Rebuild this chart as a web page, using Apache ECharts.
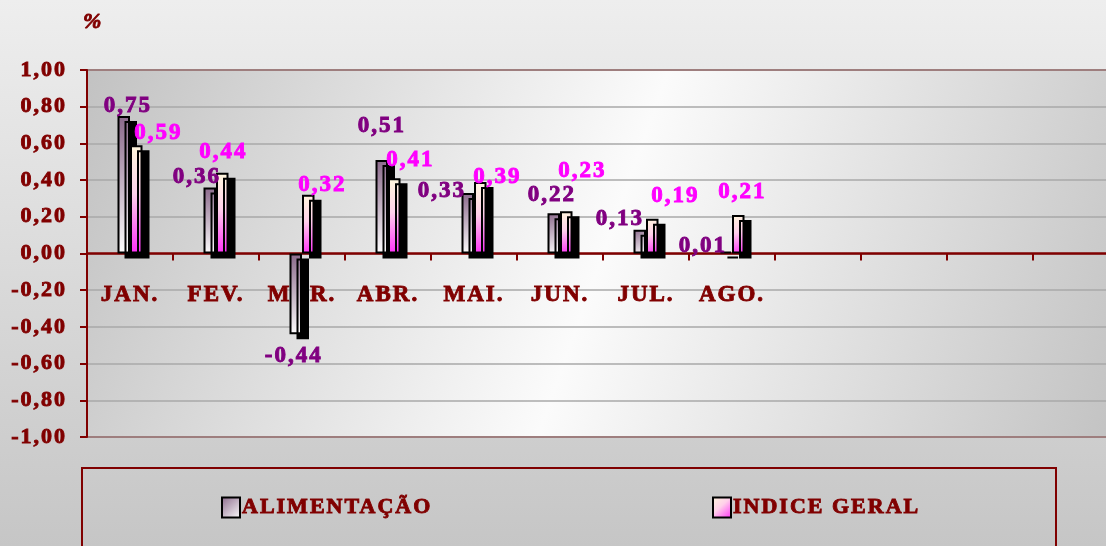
<!DOCTYPE html>
<html>
<head>
<meta charset="utf-8">
<script src="https://cdn.jsdelivr.net/npm/echarts@6/dist/echarts.min.js"></script>
<style>
  html, body { margin: 0; padding: 0; overflow: hidden; }
  /* the plot runs a little past the right edge of the window, as in the original */
  #main { width: 1120px; height: 546px; }
</style>
</head>
<body>
<div id="main"></div>
<script>
// months shown on the axis; the last four slots are left empty like the original sheet
const months = ['JAN.', 'FEV.', 'MAR.', 'ABR.', 'MAI.', 'JUN.', 'JUL.', 'AGO.', '', '', '', ''];
const alimentacao = [0.75, 0.36, -0.44, 0.51, 0.33, 0.22, 0.13, 0.01];
const indiceGeral = [0.59, 0.44, 0.32, 0.41, 0.39, 0.23, 0.19, 0.21];
const yTickLabels = ['-1,00', '-0,80', '-0,60', '-0,40', '-0,20', '0,00', '0,20', '0,40', '0,60', '0,80', '1,00'];

// label nudges (px) so the value labels sit where they were dragged in the original
const alimLabelShift = [[4, 2], [-13, 2], [-2, 10], [0, -22], [-26, 10], [-2, -6], [-20, 1], [-23, 6]];
const indLabelShift = [[22, 0], [1, -9], [14, 2], [16, -6], [17, 7], [16, -28], [23, -11], [4, -11]];

// the old spreadsheet spaces its letters out a bit; canvas can do that too
const fontDesc = Object.getOwnPropertyDescriptor(CanvasRenderingContext2D.prototype, 'font');
Object.defineProperty(CanvasRenderingContext2D.prototype, 'font', {
  configurable: true,
  get() { return fontDesc.get.call(this); },
  set(v) { fontDesc.set.call(this, v); this.letterSpacing = '2px'; }
});

const darkRed = '#800000';
const serif = 'Liberation Serif';
const fmt = v => v.toFixed(2).replace('.', ',');

const grad = (stops) => new echarts.graphic.LinearGradient(0, 0, 1, 1, stops);

const alimFill = grad([{ offset: 0, color: '#8a688a' }, { offset: 1, color: '#ffffff' }]);
const indFill = grad([{ offset: 0, color: '#fff8dc' }, { offset: 0.45, color: '#ffd0ea' }, { offset: 1, color: '#ff2cf8' }]);

const barStyle = (fill) => ({
  color: fill,
  borderColor: '#000',
  borderWidth: 2,
  shadowColor: '#000',
  shadowBlur: 0,
  shadowOffsetX: 7,
  shadowOffsetY: 5
});

const makeItems = (values, shifts) => values.map((v, i) => ({
  value: v,
  label: { position: v < 0 ? 'bottom' : 'top', offset: shifts[i] }
}));

// heavy spreadsheet type: bold plus a thin outline in the same colour
const heavy = (color, size) => ({
  color: color,
  fontFamily: serif,
  fontWeight: 700,
  fontSize: size,
  textBorderColor: color,
  textBorderWidth: 0.9
});

const labelStyle = (color) => Object.assign(heavy(color, 23), {
  show: true,
  distance: 0,
  lineHeight: 24,
  formatter: p => fmt(p.value)
});

const legendBase = {
  top: 495,
  padding: 0,
  icon: 'rect',
  itemWidth: 18,
  itemHeight: 20,
  itemGap: 0,
  itemStyle: { shadowColor: 'transparent', shadowOffsetX: 0, shadowOffsetY: 0, borderColor: '#000', borderWidth: 2 },
  textStyle: Object.assign(heavy(darkRed, 22), { padding: [0, 0, 0, -3] })
};

const option = {
  animation: false,
  backgroundColor: new echarts.graphic.LinearGradient(0, 0, 0, 1, [
    { offset: 0, color: '#eeeeee' },
    { offset: 1, color: '#c6c6c6' }
  ]),
  title: {
    text: '%',
    left: 78,
    top: 5,
    textStyle: Object.assign(heavy(darkRed, 22), { fontStyle: 'italic' })
  },
  legend: [
    Object.assign({}, legendBase, { left: 221, data: ['ALIMENTAÇÃO'] }),
    Object.assign({}, legendBase, { left: 712, data: ['INDICE GERAL'] })
  ],
  graphic: [{
    type: 'rect',
    silent: true,
    shape: { x: 82, y: 468, width: 974, height: 120 },
    style: { fill: 'none', stroke: darkRed, lineWidth: 2 }
  }],
  grid: {
    left: 87,
    top: 70,
    right: 1,
    height: 367,
    show: true,
    borderColor: darkRed,
    borderWidth: 2,
    backgroundColor: grad([
      { offset: 0, color: '#c2c2c2' },
      { offset: 0.5, color: '#fbfbfb' },
      { offset: 1, color: '#c2c2c2' }
    ])
  },
  xAxis: {
    type: 'category',
    data: months,
    // the category axis sits on the zero line, labels included
    offset: -183.5,
    axisLine: { onZero: false, lineStyle: { color: darkRed, width: 2.5 } },
    axisTick: { show: true, length: 7, interval: 0, lineStyle: { color: darkRed, width: 2 } },
    axisLabel: Object.assign(heavy(darkRed, 23), { interval: 0, margin: 29 }),
    splitLine: { show: false }
  },
  yAxis: {
    type: 'value',
    min: -1,
    max: 1,
    interval: 0.2,
    axisLine: { show: true, lineStyle: { color: darkRed, width: 2 } },
    axisTick: { show: true, length: 7, lineStyle: { color: darkRed, width: 2 } },
    axisLabel: Object.assign(heavy(darkRed, 22), {
      margin: 20,
      formatter: v => yTickLabels[Math.round((v + 1) / 0.2)]
    }),
    splitLine: { lineStyle: { color: '#a8a8a8', width: 1.5 } }
  },
  series: [
    {
      name: 'ALIMENTAÇÃO',
      type: 'bar',
      barWidth: 12.5,
      barGap: '0%',
      itemStyle: barStyle(alimFill),
      label: labelStyle('#800080'),
      data: makeItems(alimentacao, alimLabelShift)
    },
    {
      name: 'INDICE GERAL',
      type: 'bar',
      barWidth: 12.5,
      itemStyle: barStyle(indFill),
      label: labelStyle('#ff00ff'),
      data: makeItems(indiceGeral, indLabelShift)
    }
  ]
};

const chart = echarts.init(document.getElementById('main'));
chart.setOption(option);
</script>
</body>
</html>
